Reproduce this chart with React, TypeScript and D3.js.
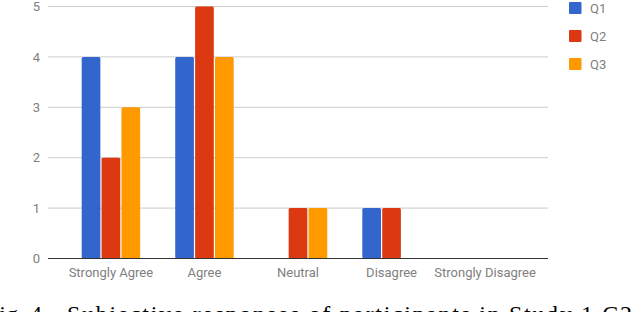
import React from "react";
import * as d3 from "d3";

const categories = ["Strongly Agree", "Agree", "Neutral", "Disagree", "Strongly Disagree"];
const seriesNames = ["Q1", "Q2", "Q3"];
const q1 = [4, 4, 0, 1, 0];
const q2 = [2, 5, 1, 1, 0];
const q3 = [3, 4, 1, 0, 0];
const yTicks = [0, 1, 2, 3, 4, 5];
const colors = ["#3366cc", "#dc3912", "#ff9900"];

const W = 636;
const H = 312;
const plot = { left: 48, right: 548, top: 6.5, bottom: 258.5 };

export default function App() {
  const series = [q1, q2, q3];

  const x = d3
    .scaleBand<string>()
    .domain(categories)
    .range([plot.left, plot.right])
    .paddingInner(0.375)
    .paddingOuter(0.36);

  const xs = d3.scaleBand<string>().domain(seriesNames).range([0, x.bandwidth()]).paddingInner(0.06);

  const y = d3.scaleLinear().domain([0, 5]).range([plot.bottom, plot.top]);

  const font = "Roboto";
  const serif = "Liberation Serif";

  return (
    <>
      <style>{`body{margin:0}`}</style>
      <svg width={W} height={H} style={{ display: "block" }}>
        <rect width={W} height={H} fill="#fff" />
        {/* gridlines */}
        {yTicks
          .filter((t) => t > 0)
          .map((t) => (
            <line key={t} x1={plot.left} x2={plot.right} y1={y(t)} y2={y(t)} stroke="#cccccc" strokeWidth={1} />
          ))}
        {yTicks.map((t) => (
          <text key={"l" + t} x={40} y={y(t)} dy="0.36em" textAnchor="end" fontFamily={font} fontSize={13} fill="#808080">
            {t}
          </text>
        ))}
        {/* bars */}
        {series.map((vals, si) =>
          vals.map((v, ci) =>
            v > 0 ? (
              <rect
                key={si + "-" + ci}
                x={(x(categories[ci]) ?? 0) + (xs(seriesNames[si]) ?? 0)}
                y={y(v)}
                width={xs.bandwidth()}
                height={y(0) - y(v)}
                rx={1.5}
                fill={colors[si]}
              />
            ) : null
          )
        )}
        <line x1={plot.left} x2={plot.right} y1={y(0)} y2={y(0)} stroke="#333333" strokeWidth={1} />
        {categories.map((c) => (
          <text
            key={c}
            x={(x(c) ?? 0) + x.bandwidth() / 2}
            y={276.5}
            textAnchor="middle"
            fontFamily={font}
            fontSize={13}
            fill="#808080"
          >
            {c}
          </text>
        ))}
        {/* legend */}
        {seriesNames.map((s, i) => (
          <g key={s} transform={`translate(569,${2 + i * 28})`}>
            <rect width={12.5} height={12} rx={1} fill={colors[i]} />
            <text x={21} y={6} dy="0.36em" fontFamily={font} fontSize={13} fill="#808080">
              {s}
            </text>
          </g>
        ))}
        {/* caption, cut off at the bottom edge */}
        <text x={-14} y={322} fontFamily={serif} fontSize={24} fill="#000">
          Fig. 4.
        </text>
        <text
          x={67}
          y={322}
          fontFamily={serif}
          fontSize={24}
          fill="#000"
          textLength={565}
          lengthAdjust="spacing"
        >
          Subjective responses of participants in Study 1 C2
        </text>
      </svg>
    </>
  );
}
